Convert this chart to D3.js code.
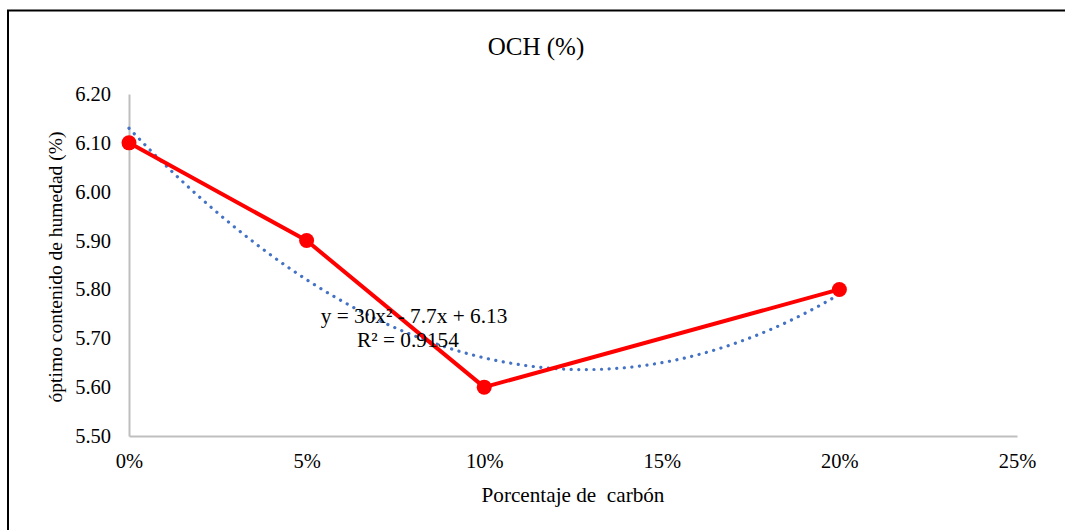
<!DOCTYPE html>
<html>
<head>
<meta charset="utf-8">
<script src="https://cdn.jsdelivr.net/npm/d3@7"></script>
<style>
  html, body { margin: 0; padding: 0; background: #fff; }
  svg { display: block; }
</style>
</head>
<body>
<svg id="chart" width="1065" height="530"></svg>
<script>
// ---- data ----
const carbonPct = [0, 0.05, 0.10, 0.20];
const ochValues = [6.10, 5.90, 5.60, 5.80];
const yTicks = [5.50, 5.60, 5.70, 5.80, 5.90, 6.00, 6.10, 6.20];
const xTicks = [0, 0.05, 0.10, 0.15, 0.20, 0.25];
const chartTitle = "OCH (%)";
const xTitle = "Porcentaje de  carbón";
const yTitle = "óptimo contenido de humedad (%)";
const eqLabel = "y = 30x² - 7.7x + 6.13";
const r2Label = "R² = 0.9154";

const FONT = "'Liberation Serif', 'Times New Roman', Times, 'DejaVu Serif', serif";

const svg = d3.select("#chart").style("font-family", FONT);

// outer border (frame extends beyond right/bottom edges)
svg.append("rect")
  .attr("x", 8).attr("y", 10.5)
  .attr("width", 1070).attr("height", 540)
  .attr("fill", "none").attr("stroke", "#000").attr("stroke-width", 2);

const x = d3.scaleLinear().domain([0, 0.25]).range([129, 1017]);
const y = d3.scaleLinear().domain([5.5, 6.2]).range([436, 94]);

// axes
const xAxis = d3.axisBottom(x).tickValues(xTicks).tickSize(0).tickPadding(17)
  .tickFormat(d3.format(".0%"));
const yAxis = d3.axisLeft(y).tickValues(yTicks).tickSize(0).tickPadding(18)
  .tickFormat(d3.format(".2f"));

const gx = svg.append("g").attr("transform", `translate(0,${y(5.5)})`).call(xAxis)
  .attr("font-family", null);
gx.select(".domain").attr("stroke", "#bfbfbf").attr("stroke-width", 2);
gx.selectAll("text").style("font-family", FONT).style("font-size", "20.5px").attr("dy", "0.71em").attr("fill", "#000");

const gy = svg.append("g").attr("transform", `translate(${x(0)},0)`).call(yAxis)
  .attr("font-family", null);
gy.select(".domain").attr("stroke", "#bfbfbf").attr("stroke-width", 2);
gy.selectAll("text").style("font-family", FONT).style("font-size", "20.5px").attr("fill", "#000");

// polynomial (2nd order) least-squares trendline computed from the data
function polyFit2(xs, ys) {
  const n = xs.length;
  let S = [0,0,0,0,0], T = [0,0,0];
  for (let i = 0; i < n; i++) {
    let p = 1;
    for (let k = 0; k < 5; k++) { S[k] += p; if (k < 3) T[k] += p * ys[i]; p *= xs[i]; }
  }
  const A = [[S[0],S[1],S[2],T[0]],[S[1],S[2],S[3],T[1]],[S[2],S[3],S[4],T[2]]];
  for (let c = 0; c < 3; c++) {
    for (let r = c + 1; r < 3; r++) {
      const f = A[r][c] / A[c][c];
      for (let k = c; k < 4; k++) A[r][k] -= f * A[c][k];
    }
  }
  const sol = [0,0,0];
  for (let r = 2; r >= 0; r--) {
    let s = A[r][3];
    for (let k = r + 1; k < 3; k++) s -= A[r][k] * sol[k];
    sol[r] = s / A[r][r];
  }
  return sol; // c0, c1, c2
}
const coef = polyFit2(carbonPct, ochValues);
const trendX = d3.range(0, 0.2001, 0.002);
const trend = trendX.map(v => [v, coef[0] + coef[1] * v + coef[2] * v * v]);

svg.append("path")
  .datum(trend)
  .attr("fill", "none")
  .attr("stroke", "#4472c4")
  .attr("stroke-width", 3.2)
  .attr("stroke-linecap", "round")
  .attr("stroke-dasharray", "0.1 7.5")
  .attr("d", d3.line().x(d => x(d[0])).y(d => y(d[1])));

// data line
const pts = carbonPct.map((v, i) => [v, ochValues[i]]);
svg.append("path")
  .datum(pts)
  .attr("fill", "none")
  .attr("stroke", "#ff0000")
  .attr("stroke-width", 4)
  .attr("stroke-linejoin", "round")
  .attr("d", d3.line().x(d => x(d[0])).y(d => y(d[1])));

svg.selectAll("circle.pt")
  .data(pts).enter().append("circle")
  .attr("class", "pt")
  .attr("cx", d => x(d[0])).attr("cy", d => y(d[1]))
  .attr("r", 7.5).attr("fill", "#ff0000");

function txt(xp, yp, s, size) {
  return svg.append("text").attr("x", xp).attr("y", yp).attr("text-anchor", "middle")
    .style("font-family", FONT).style("font-size", size + "px").attr("fill", "#000")
    .style("white-space", "pre").text(s);
}

// trendline labels
txt(414, 323, eqLabel, 21.3);
txt(408, 347, r2Label, 21.3);

// titles
txt(536, 55, chartTitle, 25);
txt(573, 502, xTitle, 21.2);
svg.append("text")
  .attr("transform", "translate(62,267) rotate(-90)")
  .attr("text-anchor", "middle")
  .style("font-family", FONT).style("font-size", "19.5px").attr("fill", "#000")
  .text(yTitle);
</script>
</body>
</html>
